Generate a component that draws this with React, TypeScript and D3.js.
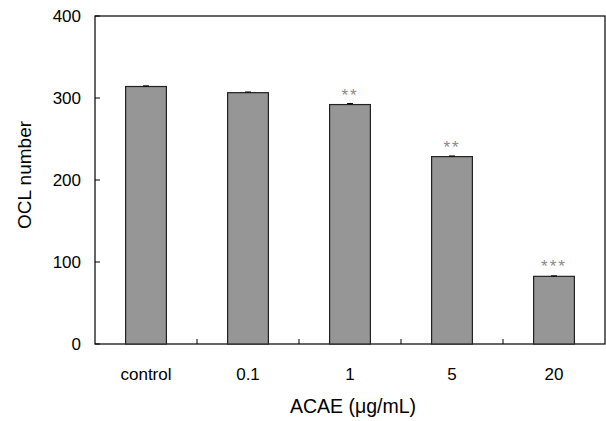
import React, { useEffect, useRef } from 'react';
import * as d3 from 'd3';

const categories = ['control', '0.1', '1', '5', '20'];
const values = [314, 306.5, 292, 228.5, 82.5];
const errors = [0.8, 0.8, 1.2, 0.8, 0.6];
const marks = ['', '', '**', '**', '***'];
const yTicks = [0, 100, 200, 300, 400];

const FONT = 'Arial, Liberation Sans, sans-serif';

const App = () => {
  const ref = useRef<SVGSVGElement | null>(null);

  useEffect(() => {
    const width = 606;
    const height = 421;
    const margin = { top: 16, right: 1, bottom: 77, left: 95 };
    const innerW = width - margin.left - margin.right;
    const innerH = height - margin.top - margin.bottom;

    const svg = d3.select(ref.current);
    svg.selectAll('*').remove();

    const g = svg.append('g')
      .attr('transform', `translate(${margin.left},${margin.top})`);

    const x = d3.scaleBand()
      .domain(categories)
      .range([0, innerW])
      .paddingInner(0.6)
      .paddingOuter(0.3);
    const band = innerW / categories.length;

    const y = d3.scaleLinear().domain([0, 400]).range([innerH, 0]);

    // frame
    g.append('rect')
      .attr('x', 0).attr('y', y(400))
      .attr('width', innerW).attr('height', innerH - y(400))
      .attr('fill', 'none').attr('stroke', '#000').attr('stroke-width', 1.2);

    // y ticks (inward)
    yTicks.forEach(t => {
      g.append('line')
        .attr('x1', 0).attr('x2', 5)
        .attr('y1', y(t)).attr('y2', y(t))
        .attr('stroke', '#000');
      g.append('text')
        .attr('x', -14).attr('y', y(t))
        .attr('dy', '0.35em')
        .attr('text-anchor', 'end')
        .attr('font-family', FONT)
        .attr('font-size', 17)
        .text(t);
    });

    // x ticks between categories
    for (let i = 1; i < categories.length; i++) {
      g.append('line')
        .attr('x1', band * i).attr('x2', band * i)
        .attr('y1', innerH).attr('y2', innerH - 5)
        .attr('stroke', '#000');
    }

    // bars
    g.selectAll('rect.bar')
      .data(values)
      .enter()
      .append('rect')
      .attr('class', 'bar')
      .attr('x', (d, i) => band * i + band / 2 - x.bandwidth() / 2)
      .attr('y', d => y(d))
      .attr('width', x.bandwidth())
      .attr('height', d => innerH - y(d))
      .attr('fill', '#969696')
      .attr('stroke', '#222')
      .attr('stroke-width', 1.2);

    // error bars + significance marks
    values.forEach((v, i) => {
      const cx = band * i + band / 2;
      g.append('line')
        .attr('x1', cx).attr('x2', cx)
        .attr('y1', y(v + errors[i])).attr('y2', y(v))
        .attr('stroke', '#000');
      g.append('line')
        .attr('x1', cx - 3).attr('x2', cx + 3)
        .attr('y1', y(v + errors[i])).attr('y2', y(v + errors[i]))
        .attr('stroke', '#000');
      if (marks[i]) {
        g.append('text')
          .attr('x', cx).attr('y', y(v) - 4)
          .attr('text-anchor', 'middle')
          .attr('font-family', FONT)
          .attr('font-size', 17)
          .attr('letter-spacing', 2)
          .attr('fill', '#8a8a8a')
          .text(marks[i]);
      }
    });

    // category labels
    categories.forEach((c, i) => {
      g.append('text')
        .attr('x', band * i + band / 2).attr('y', innerH + 36)
        .attr('text-anchor', 'middle')
        .attr('font-family', FONT)
        .attr('font-size', 17)
        .text(c);
    });

    // axis titles
    svg.append('text')
      .attr('x', 353).attr('y', 413)
      .attr('text-anchor', 'middle')
      .attr('font-family', FONT)
      .attr('font-size', 19.5)
      .text('ACAE (\u03bcg/mL)');

    svg.append('text')
      .attr('transform', `translate(31,175) rotate(-90)`)
      .attr('text-anchor', 'middle')
      .attr('font-family', FONT)
      .attr('font-size', 19)
      .text('OCL number');
  }, []);

  return (
    <svg ref={ref} width={606} height={421}
      style={{ position: 'absolute', left: 0, top: 0, background: '#fff' }} />
  );
};

export default App;
